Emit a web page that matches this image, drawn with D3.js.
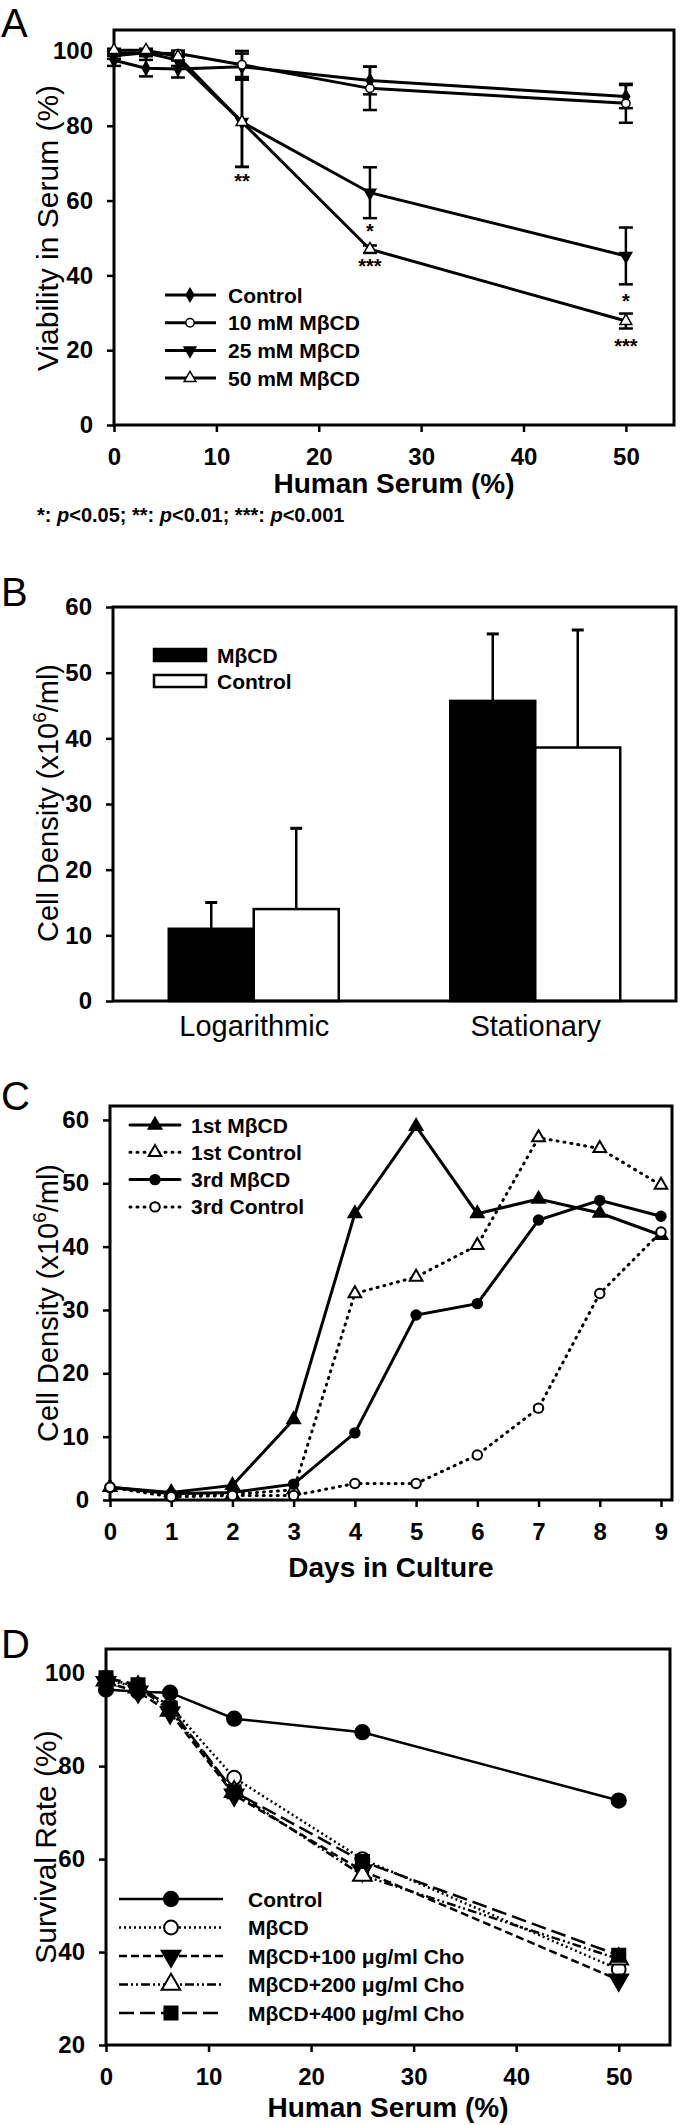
<!DOCTYPE html>
<html><head><meta charset="utf-8">
<script src="https://cdn.jsdelivr.net/npm/d3@7"></script>
<style>
body{margin:0;background:#fff;}
svg{display:block;}
text{font-family:"Liberation Sans",Arial,Helvetica,sans-serif;fill:#000;}
</style></head><body>
<svg id="fig" width="680" height="2125"></svg>
<script>
// ---------- Panel A data ----------
const serumA = [0, 3.125, 6.25, 12.5, 25, 50];
const aControl = [97.5, 95.4, 95.2, 95.8, 92.1, 87.8];
const aControlErr = [1.5, 2.2, 2.3, 3.5, 3.7, 3.1];
const aM10 = [99.5, 99.4, 99.3, 96.3, 90.0, 86.0];
const aM10Err = [0.8, 0.8, 0.8, 3.7, 5.8, 5.2];
const aM25 = [98.7, 99.5, 97.5, 81.0, 62.1, 45.2];
const aM25Err = [0.8, 0.6, 1.5, 12.0, 6.8, 7.6];
const aM50 = [100.2, 100.2, 98.5, 81.0, 47.0, 27.8];
const aM50Err = [0.4, 0.4, 1.0, 12.0, 1.0, 2.0];
const aLegend = ["Control", "10 mM M\u03b2CD", "25 mM M\u03b2CD", "50 mM M\u03b2CD"];
const aXTicks = [0, 10, 20, 30, 40, 50];
const aYTicks = [0, 20, 40, 60, 80, 100];
const aStarX = [12.5, 25, 25, 50, 50];
const aStarY = [66.3, 52.9, 43.6, 34.2, 22.2];
const aStarText = ["**", "*", "***", "*", "***"];

// ---------- Panel B data ----------
const phases = ["Logarithmic", "Stationary"];
const bMbcd = [11.0, 45.7];
const bMbcdErr = [4.0, 10.2];
const bControl = [14.0, 38.6];
const bControlErr = [12.3, 17.9];
const bLegend = ["M\u03b2CD", "Control"];
const bYTicks = [0, 10, 20, 30, 40, 50, 60];

// ---------- Panel C data ----------
const days = [0, 1, 2, 3, 4, 5, 6, 7, 8, 9];
const c1stMbcd = [2.0, 1.2, 2.3, 12.7, 45.2, 59.0, 45.2, 47.5, 45.3, 41.8];
const c1stControl = [2.0, 0.8, 0.9, 1.6, 32.6, 35.2, 40.2, 57.2, 55.5, 49.7];
const c3rdMbcd = [2.0, 1.0, 1.2, 2.5, 10.6, 29.2, 31.0, 44.2, 47.3, 44.8];
const c3rdControl = [2.0, 0.5, 0.7, 0.7, 2.6, 2.6, 7.1, 14.5, 32.6, 42.3];
const cLegend = ["1st M\u03b2CD", "1st Control", "3rd M\u03b2CD", "3rd Control"];
const cXTicks = [0, 1, 2, 3, 4, 5, 6, 7, 8, 9];
const cYTicks = [0, 10, 20, 30, 40, 50, 60];

// ---------- Panel D data ----------
const serumD = [0, 3.125, 6.25, 12.5, 25, 50];
const dControl = [96.5, 96.0, 95.8, 90.2, 87.3, 72.6];
const dMbcd = [99.0, 97.0, 93.0, 77.5, 60.0, 36.3];
const dCho100 = [98.0, 96.0, 91.5, 73.8, 57.5, 34.0];
const dCho200 = [98.5, 97.0, 92.0, 74.5, 56.5, 38.5];
const dCho400 = [99.0, 97.5, 92.5, 74.5, 59.5, 39.3];
const dLegend = ["Control", "M\u03b2CD", "M\u03b2CD+100 \u03bcg/ml Cho", "M\u03b2CD+200 \u03bcg/ml Cho", "M\u03b2CD+400 \u03bcg/ml Cho"];
const dXTicks = [0, 10, 20, 30, 40, 50];
const dYTicks = [20, 40, 60, 80, 100];

// ---------- helpers ----------
const svg = d3.select('#fig');
svg.append('rect').attr('width', 680).attr('height', 2125).attr('fill', '#fff');

function frame(g, x0, x1, y0, y1) {
  g.append('rect').attr('x', x0).attr('y', y0).attr('width', x1 - x0).attr('height', y1 - y0)
    .attr('fill', 'none').attr('stroke', '#000').attr('stroke-width', 3);
}
function styleAxis(sel, fs, bold) {
  sel.select('.domain').remove();
  sel.selectAll('.tick line').attr('stroke', '#000').attr('stroke-width', 2.5);
  sel.selectAll('.tick text').attr('font-size', fs).attr('font-weight', bold ? 'bold' : 'normal').attr('fill', '#000');
}
function symbolPath(type, size) {
  const map = {circle: d3.symbolCircle, triangle: d3.symbolTriangle, tridown: d3.symbolTriangle,
               square: d3.symbolSquare, diamond: d3.symbolDiamond};
  return d3.symbol().type(map[type]).size(size)();
}
function marker(g, type, filled, cx, cy, size, sw) {
  g.append('path').attr('d', symbolPath(type, size))
    .attr('transform', `translate(${cx},${cy})` + (type === 'tridown' ? ' rotate(180)' : ''))
    .attr('fill', filled ? '#000' : '#fff').attr('stroke', '#000').attr('stroke-width', sw);
}
function panelLetter(txt, y) {
  svg.append('text').attr('x', 1).attr('y', y).attr('font-size', 40).text(txt);
}
function yTitle(parts, x, y, fs) {
  const t = svg.append('text').attr('transform', `translate(${x},${y}) rotate(-90)`)
    .attr('text-anchor', 'middle').attr('font-size', fs);
  parts.forEach(p => {
    const s = t.append('tspan').text(p.t);
    if (p.sup) s.attr('font-size', fs * 0.65).attr('dy', -fs * 0.4);
    if (p.after) s.attr('dy', fs * 0.4);
  });
}

// ================= Panel A =================
{
  const x = d3.scaleLinear().domain([0, 54.7]).range([114, 674]);
  const y = d3.scaleLinear().domain([0, 105.6]).range([425, 30]);
  const g = svg.append('g');
  panelLetter('A', 37);
  g.append('g').attr('transform', 'translate(0,425)')
    .call(d3.axisBottom(x).tickValues(aXTicks).tickSize(7).tickPadding(16))
    .call(s => styleAxis(s, 24, true));
  g.append('g').attr('transform', 'translate(114,0)')
    .call(d3.axisLeft(y).tickValues(aYTicks).tickSize(7).tickPadding(14))
    .call(s => styleAxis(s, 24, true));
  frame(g, 114, 674, 30, 425);

  const series = [
    {v: aControl, e: aControlErr, m: 'diamond', f: true, sz: 50},
    {v: aM10, e: aM10Err, m: 'circle', f: false, sz: 55},
    {v: aM25, e: aM25Err, m: 'tridown', f: true, sz: 60},
    {v: aM50, e: aM50Err, m: 'triangle', f: false, sz: 60}
  ];
  const line = d3.line().x((d, i) => x(serumA[i])).y(d => y(d));
  series.forEach(s => {
    s.v.forEach((v, i) => {
      const cx = x(serumA[i]);
      g.append('line').attr('x1', cx).attr('x2', cx).attr('y1', y(v - s.e[i])).attr('y2', y(v + s.e[i]))
        .attr('stroke', '#000').attr('stroke-width', 2.5);
      [v - s.e[i], v + s.e[i]].forEach(w => g.append('line').attr('x1', cx - 7).attr('x2', cx + 7)
        .attr('y1', y(w)).attr('y2', y(w)).attr('stroke', '#000').attr('stroke-width', 2.5));
    });
  });
  series.forEach(s => {
    g.append('path').attr('d', line(s.v)).attr('fill', 'none').attr('stroke', '#000').attr('stroke-width', 3);
  });
  series.forEach(s => s.v.forEach((v, i) => marker(g, s.m, s.f, x(serumA[i]), y(v), s.sz, 1.5)));

  aStarText.forEach((t, i) => g.append('text').attr('x', x(aStarX[i])).attr('y', y(aStarY[i]) + 11)
    .attr('text-anchor', 'middle').attr('font-size', 20).attr('font-weight', 'bold').text(t));

  // legend
  aLegend.forEach((lab, i) => {
    const ly = 295 + i * 27.7;
    g.append('line').attr('x1', 165).attr('x2', 216).attr('y1', ly).attr('y2', ly).attr('stroke', '#000').attr('stroke-width', 3);
    marker(g, series[i].m, series[i].f, 190, ly, series[i].sz, 1.5);
    g.append('text').attr('x', 228).attr('y', ly + 7.5).attr('font-size', 21).attr('font-weight', 'bold').text(lab);
  });
  svg.append('text').attr('x', 394).attr('y', 493).attr('text-anchor', 'middle').attr('font-size', 28)
    .attr('font-weight', 'bold').text('Human Serum (%)');
  yTitle([{t: 'Viability in Serum (%)'}], 58, 228, 30);

  const p = svg.append('text').attr('x', 37).attr('y', 522).attr('font-size', 20).attr('font-weight', 'bold');
  p.append('tspan').text('*: ');
  p.append('tspan').attr('font-style', 'italic').text('p');
  p.append('tspan').text('<0.05; **: ');
  p.append('tspan').attr('font-style', 'italic').text('p');
  p.append('tspan').text('<0.01; ***: ');
  p.append('tspan').attr('font-style', 'italic').text('p');
  p.append('tspan').text('<0.001');
}

// ================= Panel B =================
{
  const x = d3.scalePoint().domain(phases).range([113, 676]).padding(0.5);
  const y = d3.scaleLinear().domain([0, 60]).range([1001, 607]);
  const g = svg.append('g');
  panelLetter('B', 606);
  const barW = 85;
  const groups = [
    {v: bMbcd, e: bMbcdErr, fill: '#000', off: -barW},
    {v: bControl, e: bControlErr, fill: '#fff', off: 0}
  ];
  groups.forEach(s => {
    phases.forEach((ph, i) => {
      const bx = x(ph) + s.off;
      g.append('rect').attr('x', bx).attr('y', y(s.v[i])).attr('width', barW).attr('height', y(0) - y(s.v[i]))
        .attr('fill', s.fill).attr('stroke', '#000').attr('stroke-width', 2.5);
      const cx = bx + barW / 2;
      g.append('line').attr('x1', cx).attr('x2', cx).attr('y1', y(s.v[i])).attr('y2', y(s.v[i] + s.e[i]))
        .attr('stroke', '#000').attr('stroke-width', 2.5);
      g.append('line').attr('x1', cx - 6).attr('x2', cx + 6).attr('y1', y(s.v[i] + s.e[i])).attr('y2', y(s.v[i] + s.e[i]))
        .attr('stroke', '#000').attr('stroke-width', 3);
    });
  });
  g.append('g').attr('transform', 'translate(113,0)')
    .call(d3.axisLeft(y).tickValues(bYTicks).tickSize(7).tickPadding(14))
    .call(s => styleAxis(s, 24, true));
  g.append('g').attr('transform', 'translate(0,1001)')
    .call(d3.axisBottom(x).tickSize(0).tickPadding(14))
    .call(s => styleAxis(s, 29, false));
  frame(g, 113, 676, 607, 1001);
  bLegend.forEach((lab, i) => {
    const ly = 655 + i * 26;
    g.append('rect').attr('x', 154).attr('y', ly - 6).attr('width', 52).attr('height', 12)
      .attr('fill', groups[i].fill).attr('stroke', '#000').attr('stroke-width', 2.5);
    g.append('text').attr('x', 217).attr('y', ly + 7.5).attr('font-size', 21).attr('font-weight', 'bold').text(lab);
  });
  yTitle([{t: 'Cell Density (x10'}, {t: '6', sup: true}, {t: '/ml)', after: true}], 58, 803, 29);
}

// ================= Panel C =================
{
  const x = d3.scaleLinear().domain([0, 9.18]).range([110, 672]);
  const y = d3.scaleLinear().domain([0, 62.2]).range([1500, 1106]);
  const g = svg.append('g');
  panelLetter('C', 1110);
  g.append('g').attr('transform', 'translate(0,1500)')
    .call(d3.axisBottom(x).tickValues(cXTicks).tickSize(7).tickPadding(16))
    .call(s => styleAxis(s, 24, true));
  g.append('g').attr('transform', 'translate(110,0)')
    .call(d3.axisLeft(y).tickValues(cYTicks).tickSize(7).tickPadding(14))
    .call(s => styleAxis(s, 24, true));
  frame(g, 110, 672, 1106, 1500);
  const series = [
    {v: c1stMbcd, m: 'triangle', f: true, dash: null},
    {v: c1stControl, m: 'triangle', f: false, dash: '1,6'},
    {v: c3rdMbcd, m: 'circle', f: true, dash: null},
    {v: c3rdControl, m: 'circle', f: false, dash: '1,6'}
  ];
  const line = d3.line().x((d, i) => x(days[i])).y(d => y(d));
  series.forEach(s => {
    g.append('path').attr('d', line(s.v)).attr('fill', 'none').attr('stroke', '#000')
      .attr('stroke-width', 3).attr('stroke-linecap', 'round')
      .attr('stroke-dasharray', s.dash);
  });
  series.forEach(s => s.v.forEach((v, i) => marker(g, s.m, s.f, x(days[i]), y(v), 70, 2)));
  cLegend.forEach((lab, i) => {
    const ly = 1125 + i * 27.3;
    g.append('line').attr('x1', 130).attr('x2', 180).attr('y1', ly).attr('y2', ly).attr('stroke', '#000')
      .attr('stroke-width', 3).attr('stroke-linecap', 'round').attr('stroke-dasharray', series[i].dash);
    marker(g, series[i].m, series[i].f, 155, ly, 70, 2);
    g.append('text').attr('x', 191).attr('y', ly + 7.5).attr('font-size', 21).attr('font-weight', 'bold').text(lab);
  });
  svg.append('text').attr('x', 391).attr('y', 1577).attr('text-anchor', 'middle').attr('font-size', 28)
    .attr('font-weight', 'bold').text('Days in Culture');
  yTitle([{t: 'Cell Density (x10'}, {t: '6', sup: true}, {t: '/ml)', after: true}], 58, 1303, 29);
}

// ================= Panel D =================
{
  const x = d3.scaleLinear().domain([0, 55]).range([106, 670]);
  const y = d3.scaleLinear().domain([20, 105.2]).range([2045, 1649]);
  const g = svg.append('g');
  panelLetter('D', 1658);
  g.append('g').attr('transform', 'translate(0,2045)')
    .call(d3.axisBottom(x).tickValues(dXTicks).tickSize(7).tickPadding(16))
    .call(s => styleAxis(s, 24, true));
  g.append('g').attr('transform', 'translate(106,0)')
    .call(d3.axisLeft(y).tickValues(dYTicks).tickSize(7).tickPadding(14))
    .call(s => styleAxis(s, 24, true));
  frame(g, 106, 670, 1649, 2045);
  const series = [
    {v: dControl, m: 'circle', f: true, dash: null, sz: 160},
    {v: dMbcd, m: 'circle', f: false, dash: '2,3', sz: 150},
    {v: dCho100, m: 'tridown', f: true, dash: '8,4', sz: 150},
    {v: dCho200, m: 'triangle', f: false, dash: '9,3,2,3,2,3', sz: 150},
    {v: dCho400, m: 'square', f: true, dash: '15,6', sz: 170}
  ];
  const line = d3.line().x((d, i) => x(serumD[i])).y(d => y(d));
  series.forEach(s => {
    g.append('path').attr('d', line(s.v)).attr('fill', 'none').attr('stroke', '#000')
      .attr('stroke-width', 2.5).attr('stroke-dasharray', s.dash);
  });
  series.forEach(s => s.v.forEach((v, i) => marker(g, s.m, s.f, x(serumD[i]), y(v), s.sz, 2)));
  dLegend.forEach((lab, i) => {
    const ly = 1899 + i * 28.5;
    g.append('line').attr('x1', 119).attr('x2', 223).attr('y1', ly).attr('y2', ly).attr('stroke', '#000')
      .attr('stroke-width', 2.5).attr('stroke-dasharray', series[i].dash);
    marker(g, series[i].m, series[i].f, 171, ly, series[i].sz, 2);
    g.append('text').attr('x', 248).attr('y', ly + 7.5).attr('font-size', 21).attr('font-weight', 'bold').text(lab);
  });
  svg.append('text').attr('x', 388).attr('y', 2117).attr('text-anchor', 'middle').attr('font-size', 28)
    .attr('font-weight', 'bold').text('Human Serum (%)');
  yTitle([{t: 'Survival Rate (%)'}], 56, 1847, 30);
}
</script></body></html>
